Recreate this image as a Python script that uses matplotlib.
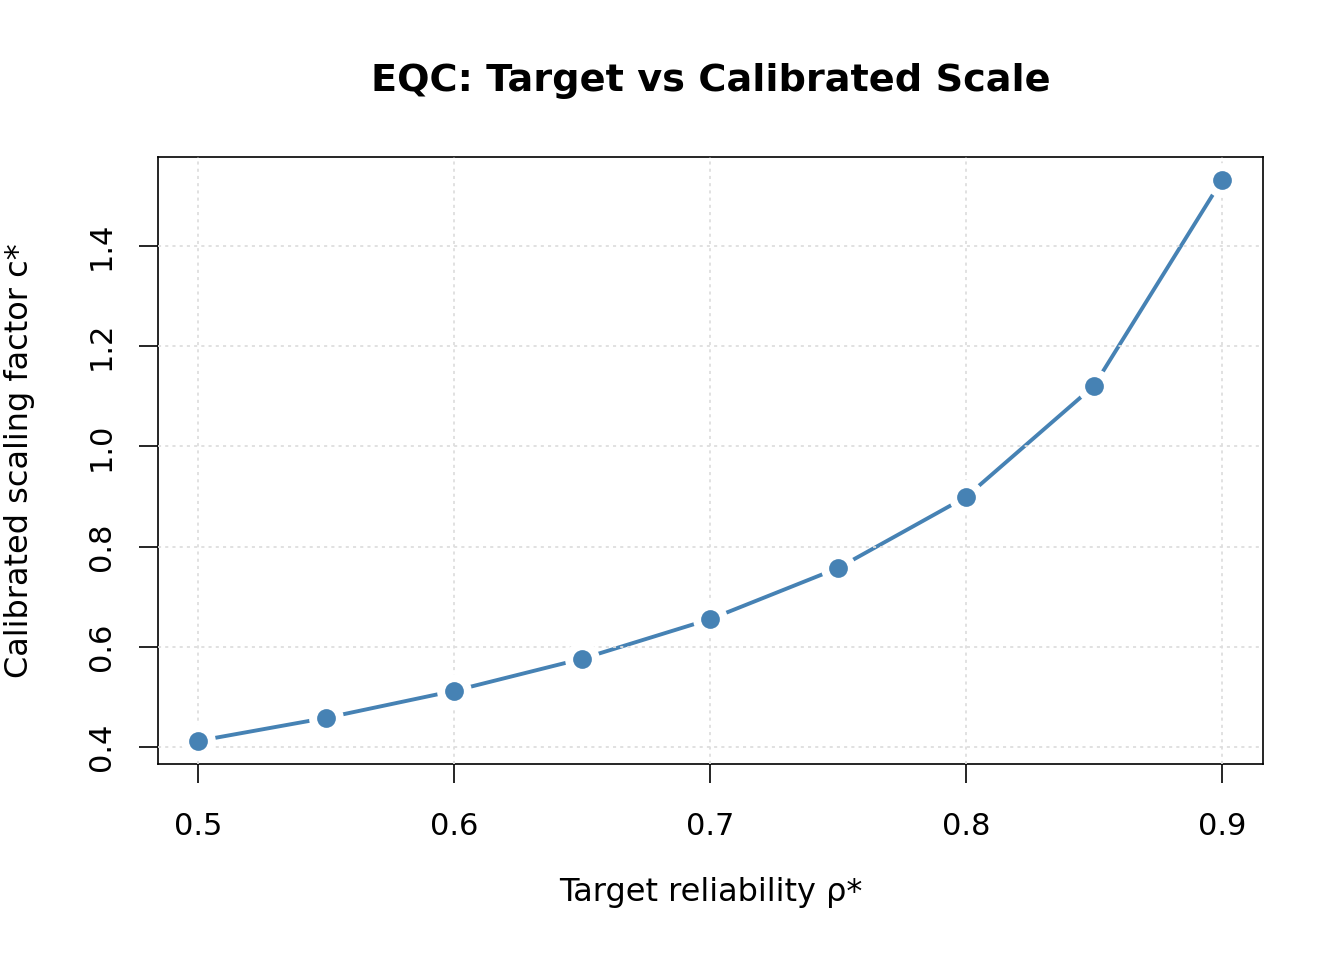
import matplotlib
matplotlib.use("Agg")
import matplotlib.pyplot as plt

rho = [0.5, 0.55, 0.6, 0.65, 0.7, 0.75, 0.8, 0.85, 0.9]
c_star = [0.412, 0.458, 0.512, 0.576, 0.655, 0.757, 0.899, 1.121, 1.532]
xticks = [0.5, 0.6, 0.7, 0.8, 0.9]
yticks = [0.4, 0.6, 0.8, 1.0, 1.2, 1.4]

col = "#4682B4"
plt.rcParams['font.family'] = ['DejaVu Sans']

fig = plt.figure(figsize=(13.44, 9.6), dpi=100)
ax = fig.add_axes([158/1344, 1-764/960, (1263-158)/1344, (764-157)/960])

ax.plot(rho, c_star, color=col, lw=2.8, zorder=2, solid_capstyle='butt')
ax.plot(rho, c_star, ls='none', marker='o', ms=25, mfc='white', mec='none', zorder=3)
ax.plot(rho, c_star, ls='none', marker='o', ms=13.5, mfc=col, mec='none', zorder=4)

ax.set_xlim(0.4844, 0.916)
ax.set_ylim(0.366, 1.5776)
ax.set_xticks(xticks)
ax.set_yticks(yticks)
ax.set_xticklabels([f"{v:.1f}" for v in xticks])
ax.set_yticklabels([f"{v:.1f}" for v in yticks], rotation=90, va='center')
ax.tick_params(axis='both', direction='out', length=13.5, width=1.2, labelsize=22, color='black')
ax.tick_params(axis='x', pad=21)
ax.tick_params(axis='y', pad=17)
for s in ax.spines.values():
    s.set_linewidth(1.2)

ax.set_axisbelow(False)
ax.grid(True, color='#dedede', ls=(0, (1.7, 2.3)), lw=1.3, zorder=5)
for gl in ax.get_xgridlines() + ax.get_ygridlines():
    gl.set_zorder(5)

ax.set_xlabel("Target reliability ρ*", fontsize=23, labelpad=26)
ax.set_ylabel("Calibrated scaling factor c*", fontsize=23, labelpad=37)
fig.text(710.5/1344, 1-81/960, "EQC: Target vs Calibrated Scale", fontsize=27.5,
         fontweight='bold', ha='center', va='center')

fig.savefig("out.png", dpi=100)
